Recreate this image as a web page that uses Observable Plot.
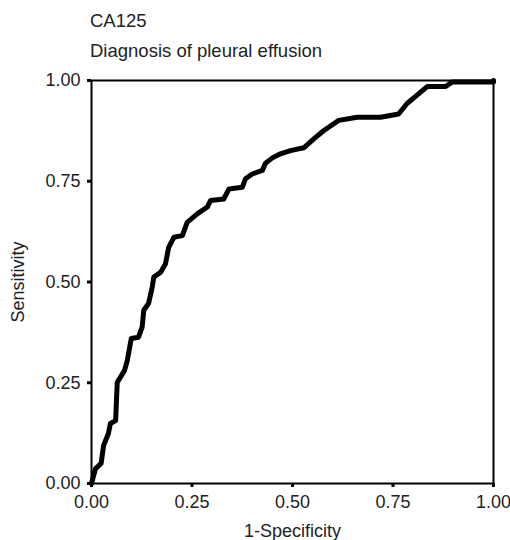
<!DOCTYPE html>
<html>
<head>
<meta charset="utf-8">
<script src="https://cdn.jsdelivr.net/npm/d3@7"></script>
<script src="https://cdn.jsdelivr.net/npm/@observablehq/plot@0.6"></script>
<style>
  body { margin: 0; background: #fff; }
  #wrap { position: relative; width: 510px; font-family: "Liberation Sans", Arial, sans-serif; }
  #head { position: relative; height: 64px; }
  .t { position: absolute; left: 90px; font-size: 18.5px; color: #222; white-space: nowrap; line-height: 18px; }
</style>
</head>
<body>
<div id="wrap">
  <div id="head">
    <div class="t" style="top:12px">CA125</div>
    <div class="t" style="top:42px">Diagnosis of pleural effusion</div>
  </div>
  <div id="chart"></div>
</div>
<script>
const title = "CA125";
const subtitle = "Diagnosis of pleural effusion";
const fpr = [0, 0.01, 0.024, 0.03, 0.042, 0.047, 0.06, 0.064, 0.072, 0.082, 0.089, 0.095, 0.099, 0.117, 0.126, 0.13, 0.142, 0.151, 0.155, 0.172, 0.184, 0.192, 0.205, 0.226, 0.238, 0.263, 0.288, 0.296, 0.329, 0.342, 0.375, 0.383, 0.4, 0.425, 0.433, 0.45, 0.47, 0.495, 0.528, 0.553, 0.578, 0.615, 0.661, 0.719, 0.764, 0.785, 0.835, 0.881, 0.897, 1.0, 1.0];
const tpr = [0, 0.037, 0.05, 0.094, 0.124, 0.149, 0.156, 0.251, 0.264, 0.28, 0.305, 0.338, 0.36, 0.363, 0.388, 0.43, 0.447, 0.487, 0.512, 0.524, 0.545, 0.586, 0.611, 0.615, 0.648, 0.669, 0.686, 0.702, 0.706, 0.731, 0.735, 0.756, 0.768, 0.777, 0.795, 0.808, 0.818, 0.826, 0.833, 0.855, 0.876, 0.901, 0.909, 0.909, 0.917, 0.943, 0.985, 0.985, 0.996, 0.996, 1.0];
const tickValues = [0, 0.25, 0.5, 0.75, 1];
const xLabel = "1-Specificity";
const yLabel = "Sensitivity";

const data = fpr.map((x, i) => ({x, y: tpr[i]}));

const chart = Plot.plot({
  width: 510,
  height: 476,
  marginTop: 16,
  marginLeft: 91,
  marginRight: 17,
  marginBottom: 57,
  style: {fontFamily: '"Liberation Sans", Arial, sans-serif', fontSize: "18px", color: "#222", background: "#fff"},
  x: {domain: [0, 1]},
  y: {domain: [0, 1]},
  marks: [
    Plot.frame({stroke: "#000", strokeWidth: 2}),
    Plot.axisX({ticks: tickValues, tickFormat: d3.format(".2f"), tickSize: 4, tickPadding: 8, strokeWidth: 3, stroke: "#000", label: xLabel, labelAnchor: "center", labelArrow: "none", labelOffset: 53, fontSize: 18}),
    Plot.axisY({ticks: tickValues, tickFormat: d3.format(".2f"), tickSize: 4, tickPadding: 7, strokeWidth: 3, stroke: "#000", label: yLabel, labelAnchor: "center", labelArrow: "none", labelOffset: 80, fontSize: 18}),
    Plot.line(data, {x: "x", y: "y", stroke: "#000", strokeWidth: 5, strokeLinejoin: "round", strokeLinecap: "round"})
  ]
});
document.getElementById("chart").appendChild(chart);
</script>
</body>
</html>
